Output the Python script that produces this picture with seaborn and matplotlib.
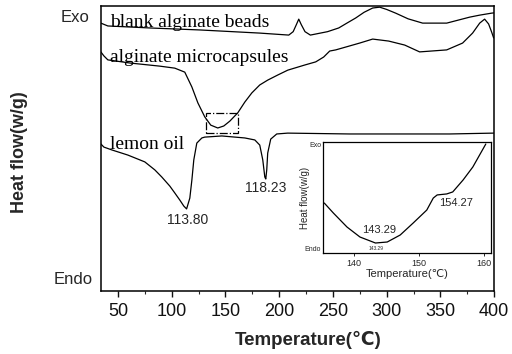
import matplotlib
matplotlib.use("Agg")
import matplotlib.pyplot as plt
from matplotlib.patches import Rectangle
from matplotlib.ticker import MultipleLocator
import seaborn as sns

# DSC traces (temperature in deg C, heat flow in arbitrary units, Exo up)
blank_T = [34.0, 40.5, 79.6, 126.1, 181.9, 208.9, 213.0, 216.0, 218.2, 220.5, 224.0, 229.0,
           245.0, 255.4, 263.0, 271.2, 279.0, 287.0, 293.5, 300.0, 308.4, 320.0, 333.5, 355.9,
           377.3, 386.6, 397.7, 400.0]
blank_hf = [9.40, 9.30, 9.23, 9.16, 9.05, 8.98, 9.10, 9.35, 9.54, 9.35, 9.10, 8.98,
            9.10, 9.23, 9.40, 9.58, 9.78, 9.93, 9.96, 9.88, 9.75, 9.55, 9.40, 9.40,
            9.61, 9.68, 9.75, 9.76]

micro_T = [34.0, 36.8, 40.5, 61.0, 88.9, 102.8, 112.1, 118.7, 124.3, 130.7, 136.3, 142.8,
           148.4, 154.0, 161.4, 168.0, 174.5, 181.9, 189.3, 198.7, 208.0, 223.8, 234.0, 241.4,
           247.0, 252.6, 261.9, 274.9, 287.0, 301.9, 316.8, 330.7, 355.9, 370.7, 380.0, 386.6,
           391.2, 394.9, 397.7, 399.6]
micro_hf = [8.39, 8.25, 8.11, 8.00, 7.89, 7.82, 7.68, 7.16, 6.60, 6.11, 5.82, 5.72,
            5.79, 5.96, 6.25, 6.63, 6.95, 7.23, 7.40, 7.58, 7.75, 7.93, 8.04, 8.21,
            8.42, 8.46, 8.56, 8.70, 8.84, 8.77, 8.63, 8.39, 8.46, 8.70, 9.05, 9.40,
            9.54, 9.37, 9.09, 8.88]

lemon_T = [34.0, 36.8, 44.2, 59.1, 74.9, 84.2, 90.7, 98.2, 102.8, 107.5, 111.2, 113.8,
           116.8, 118.7, 120.5, 123.3, 128.0, 130.7, 146.6, 168.0, 177.3, 181.9, 184.7, 186.6,
           187.5, 188.4, 189.3, 192.1, 197.7, 207.9, 265.6, 312.1, 358.7, 399.6]
lemon_hf = [5.16, 5.05, 4.95, 4.77, 4.53, 4.25, 4.00, 3.68, 3.44, 3.19, 2.98, 2.88,
            3.26, 3.89, 4.60, 5.19, 5.37, 5.40, 5.44, 5.37, 5.30, 5.12, 4.60, 4.00,
            3.93, 4.25, 4.84, 5.33, 5.51, 5.54, 5.51, 5.51, 5.51, 5.54]

# Enlarged microcapsule region
zoom_T = [135.4, 136.8, 138.9, 140.9, 143.29, 145.1, 147.1, 149.1, 151.2, 152.2, 152.8,
          154.27, 155.2, 156.8, 158.3, 160.3]
zoom_hf = [4.50, 3.60, 2.34, 1.44, 0.90, 0.99, 1.62, 2.70, 3.87, 4.95, 5.23,
           5.32, 5.50, 6.58, 7.75, 9.82]

series_names = ["blank alginate beads", "alginate microcapsules", "lemon oil"]
peak_lemon_1 = 113.80
peak_lemon_2 = 187.5
peak_lemon_2_label = "118.23"
main_ticks = [50, 100, 150, 200, 250, 300, 350, 400]
inset_ticks = [140, 150, 160]
inset_min = 143.29
inset_shoulder = 154.27

sns.set_theme(style="white")
sans = ["Liberation Sans", "DejaVu Sans"]
serif = ["Liberation Serif", "DejaVu Serif"]
plt.rcParams["font.family"] = sans

fig = plt.figure(figsize=(5.12, 3.54), dpi=100)
ax = fig.add_axes([0.197, 0.178, 0.768, 0.805])

for T, hf in [(blank_T, blank_hf), (micro_T, micro_hf), (lemon_T, lemon_hf)]:
    sns.lineplot(x=T, y=hf, ax=ax, color="black", linewidth=0.9, estimator=None)

ax.set_xlim(34, 400)
ax.set_ylim(0, 10)
ax.set_yticks([])
ax.set_xticks(main_ticks)
ax.set_xticklabels([str(t) for t in main_ticks])
ax.xaxis.set_minor_locator(MultipleLocator(25))
ax.tick_params(axis="x", which="major", direction="out", length=4, width=1,
               labelsize=13, pad=5, colors="#111111", bottom=True)
ax.tick_params(axis="x", which="minor", direction="out", length=2.5, width=0.8, bottom=True)
for s in ax.spines.values():
    s.set_color("black")
    s.set_linewidth(1.1)
ax.set_xlabel("")
ax.set_ylabel("")

# curve names
name_pos = [(42.4, 9.26), (42.4, 8.04), (42.4, 4.98)]
for name, (x, y) in zip(series_names, name_pos):
    ax.text(x, y, name, family=serif, fontsize=14, ha="left", va="baseline", color="black")

# peak labels
ax.text(peak_lemon_1 + 1.1, 2.49, f"{peak_lemon_1:.2f}", fontsize=10, ha="center", va="center")
ax.text(peak_lemon_2, 3.61, peak_lemon_2_label, fontsize=10, ha="center", va="center")

# dashed box around the enlarged region
ax.add_patch(Rectangle((131.7, 5.54), 29.7, 0.71, fill=False, edgecolor="black",
                       linestyle="-.", linewidth=0.9))

fig.text(90 / 512, (354 - 22) / 354, "Exo", fontsize=12, ha="right", va="baseline")
fig.text(93 / 512, (354 - 284) / 354, "Endo", fontsize=12, ha="right", va="baseline")
fig.text(20 / 512, (354 - 152) / 354, "Heat flow(w/g)", fontsize=13, fontweight="bold",
         rotation=90, ha="center", va="center")
fig.text(308 / 512, (354 - 340) / 354, "Temperature(℃)", fontsize=13.5, fontweight="bold",
         ha="center", va="center")

# inset
ins = fig.add_axes([323 / 512, (354 - 253) / 354, 168 / 512, 111 / 354])
ins.set_facecolor("white")
sns.lineplot(x=zoom_T, y=zoom_hf, ax=ins, color="black", linewidth=0.9, estimator=None)
ins.set_xlim(135.2, 161.1)
ins.set_ylim(0, 10)
ins.set_yticks([])
ins.set_xticks(inset_ticks)
ins.set_xticklabels([str(t) for t in inset_ticks])
ins.tick_params(axis="x", direction="out", length=2, width=0.7, labelsize=6.5, pad=2, bottom=True)
for s in ins.spines.values():
    s.set_color("black")
    s.set_linewidth(0.9)
ins.set_xlabel("Temperature(℃)", fontsize=8, labelpad=1)
ins.set_ylabel("Heat flow(w/g)", fontsize=7, labelpad=9)
ins.text(-0.01, 1.0, "Exo", transform=ins.transAxes, fontsize=5, ha="right", va="top")
ins.text(-0.01, 0.0, "Endo", transform=ins.transAxes, fontsize=5, ha="right", va="bottom")
ins.text(inset_min + 0.55, 2.07, f"{inset_min:.2f}", fontsize=8, ha="center", va="center")
ins.text(inset_shoulder + 1.45, 4.50, f"{inset_shoulder:.2f}", fontsize=8, ha="center", va="center")
ins.text(inset_min + 0.1, 0.45, f"{inset_min:.2f}", fontsize=3.5, ha="center", va="center")

fig.savefig("out.png", dpi=100)
